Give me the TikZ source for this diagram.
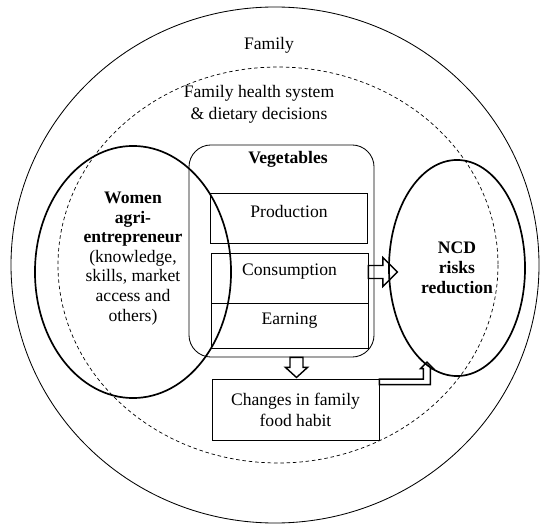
\documentclass[tikz,border=0pt]{standalone}
\usepackage{fontspec}
\setmainfont{Liberation Serif}
\usetikzlibrary{calc,shapes.geometric}

\begin{document}
\begin{tikzpicture}[x=0.025cm, y=-0.025cm,
  font=\fontsize{12.5}{13.9}\selectfont,
  box/.style={draw, line width=0.6pt, minimum width=3.925cm},
  oval/.style={draw, ellipse, line width=1.2pt, inner sep=0pt},
  hollow/.style={draw, line width=1pt, line join=miter}]
  \useasboundingbox (0,0) rectangle (550,530);
  % family and health system rings
  \draw[line width=0.6pt] (275,265) ellipse [x radius=264, y radius=258];
  \draw[line width=0.5pt, dash pattern=on 2.5pt off 2pt] (278,265) ellipse [x radius=220, y radius=198];
  \node (family) at (269,45) {Family};
  \node[align=center, font=\fontsize{12.5}{15.6}\selectfont] (health) at (259,104) {Family health system\\ \& dietary decisions};
  % vegetables block
  \node[draw, line width=0.6pt, rounded corners=0.55cm, minimum width=4.625cm, minimum height=5.3cm] (veg) at (281.5,251) {};
  \node[font=\fontsize{12.5}{13.9}\selectfont\bfseries] (vegtitle) at (288,159) {Vegetables};
  \node[box, minimum height=1.25cm] (prod) at (289,218) {};
  \node[box, minimum height=1.25cm] (cons) at (289.5,278) {};
  \node[box, minimum height=1.125cm] (earn) at (289.5,325.5) {};
  \node (prodtxt) at (289,211) {Production};
  \node (constxt) at (289.5,272) {Consumption};
  \node (earntxt) at (289.5,321) {Earning};
  % the two actors
  \node[oval, minimum width=4.9cm, minimum height=6.3cm] (women) at (133,272) {};
  \node[align=center] (womentxt) at (133,258.5) {\textbf{Women}\\ \textbf{agri-}\\ \textbf{entrepreneur}\\ (knowledge,\\ skills, market\\ access and\\ others)};
  \node[oval, minimum width=3.4cm, minimum height=5.4cm, align=center,
    font=\fontsize{12.5}{14.2}\selectfont\bfseries] (ncd) at (457,268) {NCD\\ risks\\ reduction};
  \node[draw, line width=0.6pt, minimum width=4.175cm, minimum height=1.525cm, align=center,
    font=\fontsize{12.5}{14.9}\selectfont] (habit) at (295.5,409.5) {Changes in family\\ food habit};
  % block arrows
  \draw[hollow] ($(cons.east)+(0,-12.5)$) -- ++(14.5,0) -- ++(0,-8) -- ++(14.5,14.5)
    -- ++(-14.5,14.5) -- ++(0,-8) -- ++(-14.5,0) -- cycle;
  \draw[hollow] ($(veg.south)+(21.5,0)$) -- ++(0,10) -- ++(4.5,0) -- ++(-11,10)
    -- ++(-11,-10) -- ++(4.5,0) -- ++(0,-10) -- cycle;
  \draw[hollow] ($(habit.north east)+(0,0.5)$) -- ++(44,0) -- ++(0,-10.5) -- ++(-3,0)
    -- ++(6.5,-6.5) -- ++(6.5,6.5) -- ++(-3,0) -- ++(0,16) -- ++(-51,0) -- cycle;
\end{tikzpicture}
\end{document}
